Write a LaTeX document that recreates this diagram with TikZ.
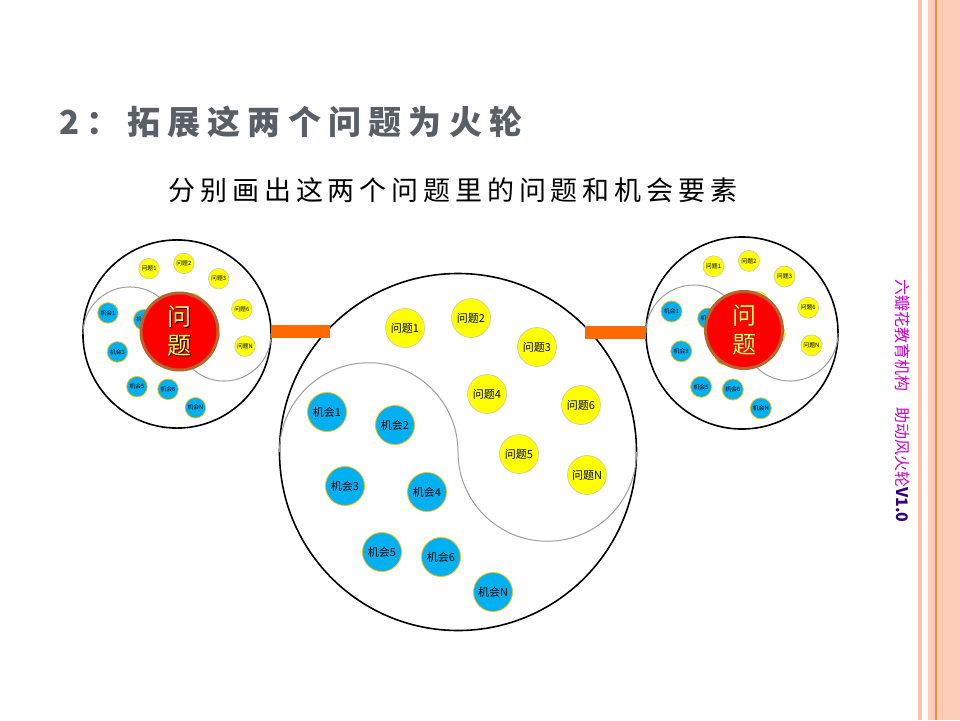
\documentclass[tikz,border=0pt]{standalone}
\usepackage{fontspec}
\usepackage{xcolor}
\usepackage{tikz}
\usetikzlibrary{calc}

\newfontfamily\cjk{Noto Sans CJK SC}

\definecolor{titlegray}{HTML}{595F66}
\definecolor{probfill}{HTML}{FFFF00}
\definecolor{probline}{HTML}{C8C8B4}
\definecolor{oppfill}{HTML}{00B0F0}
\definecolor{oppline}{HTML}{FFC000}
\definecolor{hubred}{HTML}{FF0000}
\definecolor{hubbrown}{HTML}{B8642A}
\definecolor{hubyellow}{HTML}{FFFF66}
\definecolor{barorange}{HTML}{FF6A00}
\definecolor{stripe}{HTML}{FCCDB8}
\definecolor{stripelight}{HTML}{F9C2A9}
\definecolor{stripedark}{HTML}{F9BD9F}
\definecolor{stripeline}{HTML}{F5883A}
\definecolor{brandpink}{HTML}{CC00CC}
\definecolor{brandnavy}{HTML}{330080}

\tikzset{
	rim/.style = {circle, draw = black, line width = 1.6pt, inner sep = 0pt},
	yinyang/.style = {draw = gray!75, line width = 1pt},
	problem/.style = {circle, fill = probfill, draw = probline, line width = 0.6pt, minimum size = 39pt, inner sep = 0pt, font = \cjk\fontsize{11}{11}\selectfont},
	chance/.style = {circle, fill = oppfill, draw = oppline, line width = 0.8pt, minimum size = 39pt, inner sep = 0pt, font = \cjk\fontsize{11}{11}\selectfont},
	hub/.style = {circle, fill = hubred, draw = hubbrown, line width = 3pt, minimum size = 77pt, inner sep = 0pt, align = center, font = \cjk\fontsize{24}{29}\selectfont},
	bar/.style = {draw = barorange, line width = 13pt}
}

\newcommand{\shadowtxt}[1]{\rlap{\kern0.9pt\raisebox{-0.9pt}{\textcolor{black}{#1}}}\textcolor{hubyellow}{#1}}

% one wheel: prefix, centre x, centre y, scale
\newcommand{\wheelparts}[4]{
	\begin{scope}[shift = {(#2,#3)}, scale = #4, transform shape]
		\node [rim, minimum size = 357pt] (#1rim) at (0,0) {};
		\draw [yinyang] (-178.5,0) arc [start angle = 180, end angle = 360, radius = 89.25]
			arc [start angle = 180, end angle = 0, radius = 89.25];
		\foreach \n/\px/\py in {1/-53/-124, 2/13/-134, 3/79/-105, 4/29/-58, 5/61/2, 6/123/-47, N/129/23}
			\node [problem] (#1q\n) at (\px,\py) {问题\n};
		\foreach \n/\px/\py in {1/-131/-40, 2/-63/-27, 3/-113/34, 4/-31/40, 5/-76/100, 6/-17/105, N/35/140}
			\node [chance] (#1o\n) at (\px,\py) {机会\n};
	\end{scope}
}

\begin{document}
\begin{tikzpicture}[x = 1pt, y = -1pt]
	\useasboundingbox (0,0) rectangle (960,720);
	\fill [white] (0,0) rectangle (960,720);
	
	\begin{scope}
		\fill [stripelight] (918,0) rectangle (922,720);
		\fill [stripe] (928,0) rectangle (960,720);
		\fill [stripedark] (941.7,0) rectangle (943.3,720);
		\draw [stripeline, line width = 1.2pt] (936,0) -- (936,720);
	\end{scope}
	
	\begin{scope}
		\node [anchor = west, text = titlegray, font = \cjk\bfseries\fontsize{33}{33}\selectfont\addfontfeature{LetterSpace = 22}] (title) at (56,122) {2：拓展这两个问题为火轮};
		\node [font = \cjk\fontsize{27}{27}\selectfont\addfontfeature{LetterSpace = 18}] (subtitle) at (453,190) {分别画出这两个问题里的问题和机会要素};
		\node [rotate = -90, font = \cjk\fontsize{16}{16}\selectfont] (brand) at (903,401) {\textcolor{brandpink}{六瓣花教育机构　助动风火轮}\textcolor{brandnavy}{\bfseries V1.0}};
	\end{scope}
	
	\wheelparts{b}{458}{452}{1}
	\wheelparts{l}{177}{334}{0.527}
	\wheelparts{r}{742}{333}{0.538}
	
	\begin{scope}
		\node [hub] (lhub) at (179.5,331.5) {\shadowtxt{问}\\\shadowtxt{题}};
		\node [hub] (rhub) at (744,330) {\shadowtxt{问}\\\shadowtxt{题}};
	\end{scope}
	
	\begin{scope}
		\coordinate (lbarend) at (330,331.5);
		\coordinate (rbarstart) at (585,332.5);
		\draw [bar] (lbarend -| lrim.east) -- (lbarend);
		\draw [bar] (rbarstart) -- (rbarstart -| rrim.west);
	\end{scope}
\end{tikzpicture}
\end{document}
